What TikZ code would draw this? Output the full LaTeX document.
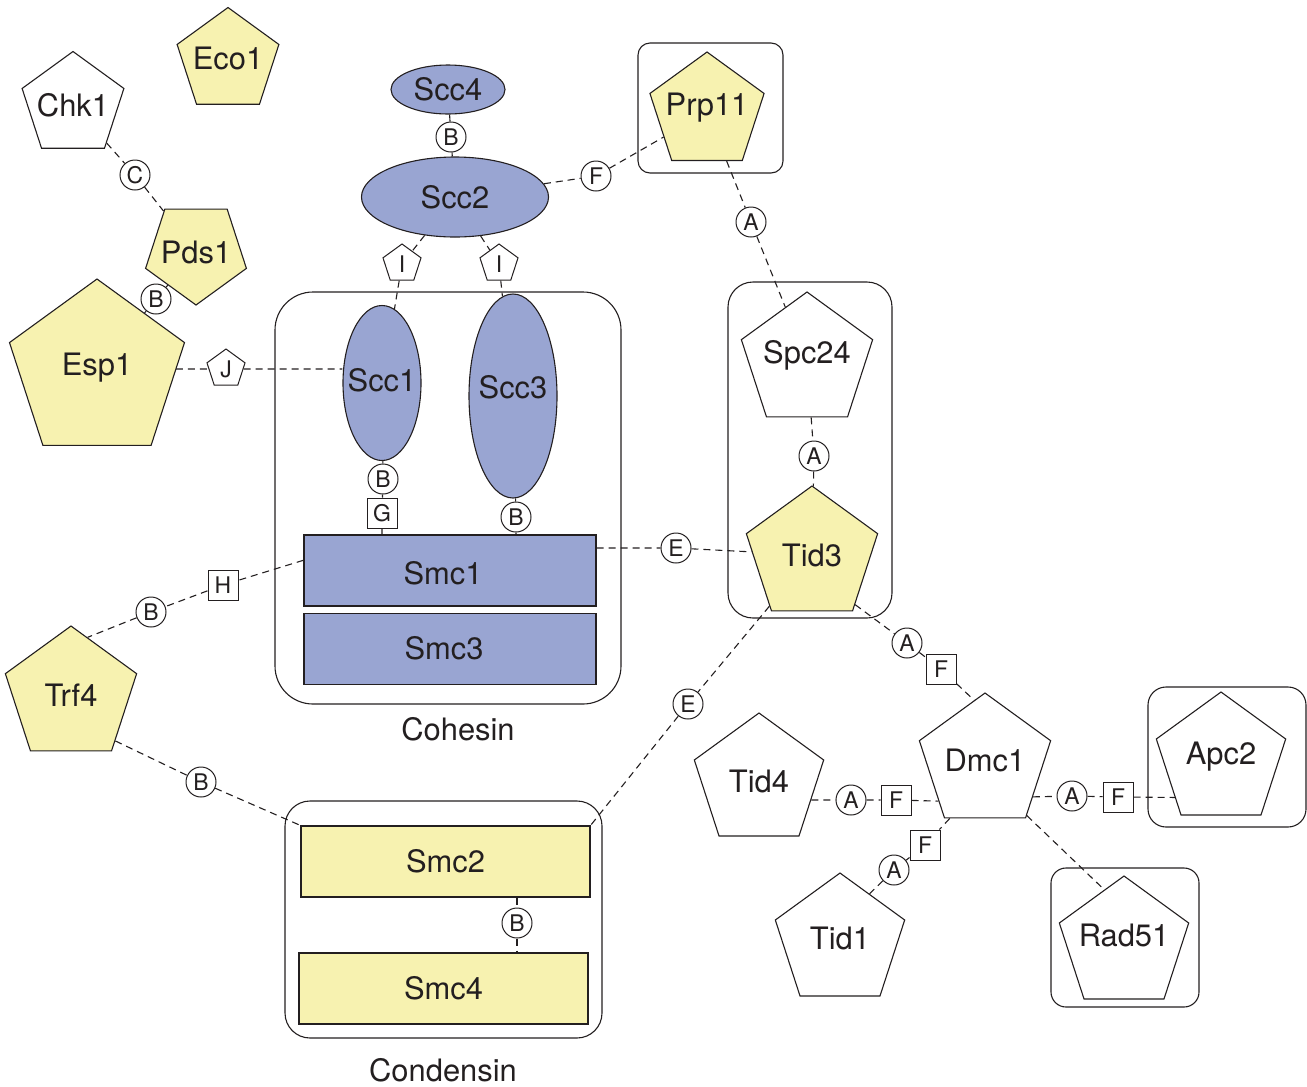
\documentclass[tikz,border=0pt]{standalone}
\usepackage{fontspec}
\setmainfont{TeX Gyre Heros}
\usetikzlibrary{shapes.geometric}

\definecolor{ink}{RGB}{35,31,32}
\definecolor{cohblue}{RGB}{153,165,210}
\definecolor{conyel}{RGB}{247,242,176}
\newcommand{\tagfont}{\fontsize{23}{26}\selectfont}

\tikzset{
    % Protein shapes (text set as a centre label so the size stays fixed)
    pent/.style={regular polygon, regular polygon sides=5, draw=ink, line width=1.1bp, inner sep=0pt},
    pent yellow/.style={pent, fill=conyel},
    pent white/.style={pent, fill=white},
    ell blue/.style={ellipse, draw=ink, line width=1.1bp, fill=cohblue, inner sep=0pt},
    bar blue/.style={rectangle, draw=ink, line width=1.1bp, fill=cohblue, minimum width=292bp, minimum height=71bp},
    bar yellow/.style={rectangle, draw=ink, line width=1.1bp, fill=conyel, minimum width=289bp, minimum height=71bp},
    % Complex outlines
    complex/.style={draw=ink, line width=1.1bp, rounded corners=#1},
    % Interaction tags
    tag/.style={draw=ink, fill=white, line width=1bp, inner sep=0pt, font=\tagfont},
    tag circ/.style={tag, circle, minimum size=30bp},
    tag sq/.style={tag, rectangle, minimum size=30bp},
    tag pent/.style={tag, regular polygon, regular polygon sides=5, minimum size=40bp},
    % Connectors
    link/.style={draw=ink, line width=1.1bp, dash pattern=on 7bp off 5bp},
    bond/.style={draw=ink, line width=1.1bp},
}

\begin{document}
\begin{tikzpicture}[x=1bp, y=-1bp, font=\fontsize{31}{36}\selectfont, text=ink]
    \useasboundingbox (0,0) rectangle (1307,1086);

    % Complexes
    \draw[complex=38bp] (275,292) rectangle (621,704);
    \draw[complex=25bp] (285,801) rectangle (602,1038);
    \draw[complex=12bp] (638,43) rectangle (783,173);
    \draw[complex=25bp] (728,282) rectangle (892,618);
    \draw[complex=18bp] (1148,687) rectangle (1306,827);
    \draw[complex=15bp] (1051,868) rectangle (1199,1007);
    \node (cohesin) at (458,729) {Cohesin};
    \node (condensin) at (443,1070) {Condensin};

    % Left proteins
    \node[pent white, minimum size=107bp, label=center:Chk1] (chk1) at (73,105) {};
    \node[pent yellow, minimum size=107bp, label={[yshift=3bp]center:Eco1}] (eco1) at (228,61) {};
    \node[pent yellow, minimum size=106bp, shape border rotate=180, label=center:Pds1] (pds1) at (196,252) {};
    \node[pent yellow, minimum size=184bp, label={[yshift=3bp]center:Esp1}] (esp1) at (97,371) {};
    \node[pent yellow, minimum size=138bp, label=center:Trf4] (trf4) at (71,695) {};

    % Cohesin
    \node[ell blue, minimum width=114bp, minimum height=49bp] (scc4) at (448,89.5) {Scc4};
    \node[ell blue, minimum width=187bp, minimum height=80bp] (scc2) at (455,197) {Scc2};
    \node[ell blue, minimum width=78bp, minimum height=155bp, label={[yshift=3bp]center:Scc1}] (scc1) at (382,383) {};
    \node[ell blue, minimum width=88bp, minimum height=204bp, label={[yshift=9bp]center:Scc3}] (scc3) at (513,396) {};
    \node[bar blue, label={[xshift=-7bp, yshift=-3bp]center:Smc1}] (smc1) at (450,570.5) {};
    \node[bar blue, label={[xshift=-6bp, yshift=1bp]center:Smc3}] (smc3) at (450,649) {};

    % Condensin
    \node[bar yellow] (smc2) at (445.5,861.5) {Smc2};
    \node[bar yellow] (smc4) at (443.5,988.5) {Smc4};

    % Right proteins
    \node[pent yellow, minimum size=120bp, label={[yshift=4bp]center:Prp11}] (prp11) at (707,112) {};
    \node[pent white, minimum size=138bp, label={[yshift=6bp]center:Spc24}] (spc24) at (807,361) {};
    \node[pent yellow, minimum size=138bp, label=center:Tid3] (tid3) at (812,555) {};
    \node[pent white, minimum size=138bp, label={[yshift=2bp]center:Dmc1}] (dmc1) at (985,762) {};
    \node[pent white, minimum size=136bp, label=center:Tid4] (tid4) at (759,781) {};
    \node[pent white, minimum size=136bp, label={[yshift=3bp]center:Tid1}] (tid1) at (840,941) {};
    \node[pent white, minimum size=136bp, label={[yshift=3bp]center:Apc2}] (apc2) at (1221,760) {};
    \node[pent white, minimum size=136bp, label={[yshift=9bp]center:Rad51}] (rad51) at (1124,944) {};

    % Tags
    \node[tag circ] (cChk) at (135,175) {C};
    \node[tag circ] (bEsp) at (156,299) {B};
    \node[tag pent] (jEsp) at (226,369) {J};
    \node[tag circ] (bScc4) at (451,137) {B};
    \node[tag circ] (fScc2) at (596,176) {F};
    \node[tag pent] (iScc1) at (402,264) {I};
    \node[tag pent] (iScc3) at (499,264) {I};
    \node[tag circ] (bScc1) at (383,479) {B};
    \node[tag sq] (gScc1) at (382,513) {G};
    \node[tag circ] (bScc3) at (516,517) {B};
    \node[tag sq] (hSmc1) at (223,585) {H};
    \node[tag circ] (bTrf4) at (151,612) {B};
    \node[tag circ] (eSmc1) at (676,548) {E};
    \node[tag circ] (aPrp11) at (751,222) {A};
    \node[tag circ] (aSpc24) at (814,456) {A};
    \node[tag circ] (eTid3) at (688,704) {E};
    \node[tag circ] (aTid3) at (907,643) {A};
    \node[tag sq] (fTid3) at (941,669) {F};
    \node[tag circ] (aTid4) at (851,800) {A};
    \node[tag sq] (fTid4) at (896,800) {F};
    \node[tag circ] (aApc2) at (1072,796) {A};
    \node[tag sq] (fApc2) at (1118,797) {F};
    \node[tag sq] (fTid1) at (925,845) {F};
    \node[tag circ] (aTid1) at (894,870) {A};
    \node[tag circ] (bSmc2) at (201,782) {B};
    \node[tag circ] (bSmc4) at (517,923) {B};

    % Interactions
    \draw[link] (chk1) -- (cChk) -- (pds1);
    \draw[bond] (pds1) -- (bEsp) -- (esp1);
    \draw[link] (esp1.east |- jEsp) -- (jEsp) -- (jEsp -| scc1.west);
    \draw[bond] (scc4) -- (bScc4) -- (scc2);
    \draw[link] (scc2) -- (fScc2) -- (prp11);
    \draw[link] (scc2) -- (iScc1) -- (scc1);
    \draw[link] (scc2) -- (iScc3) -- (scc3);
    \draw[bond] (scc1) -- (bScc1) -- (gScc1) -- (gScc1 |- smc1.north);
    \draw[bond] (scc3) -- (bScc3) -- (bScc3 |- smc1.north);
    \draw[link] (smc1.176) -- (hSmc1) -- (bTrf4) -- (trf4.74);
    \draw[link] (smc1.east |- eSmc1) -- (eSmc1) -- (tid3);
    \draw[link] (prp11) -- (aPrp11) -- (spc24);
    \draw[link] (spc24) -- (aSpc24) -- (tid3);
    \draw[link] (tid3) -- (eTid3) -- (smc2.north east);
    \draw[link] (tid3.-49) -- (aTid3) -- (fTid3) -- (dmc1.100);
    \draw[link] (tid4.-20) -- (aTid4) -- (fTid4) -- (dmc1.220);
    \draw[link] (dmc1.-36) -- (aApc2) -- (fApc2) -- (apc2.219);
    \draw[link] (dmc1.-52) -- (rad51.110);
    \draw[link] (dmc1.238) -- (fTid1) -- (aTid1) -- (tid1.58);
    \draw[link] (trf4.-46) -- (bSmc2) -- (smc2.north west);
    \draw[link] (smc2.south -| bSmc4) -- (bSmc4) -- (smc4.north -| bSmc4);
\end{tikzpicture}
\end{document}
